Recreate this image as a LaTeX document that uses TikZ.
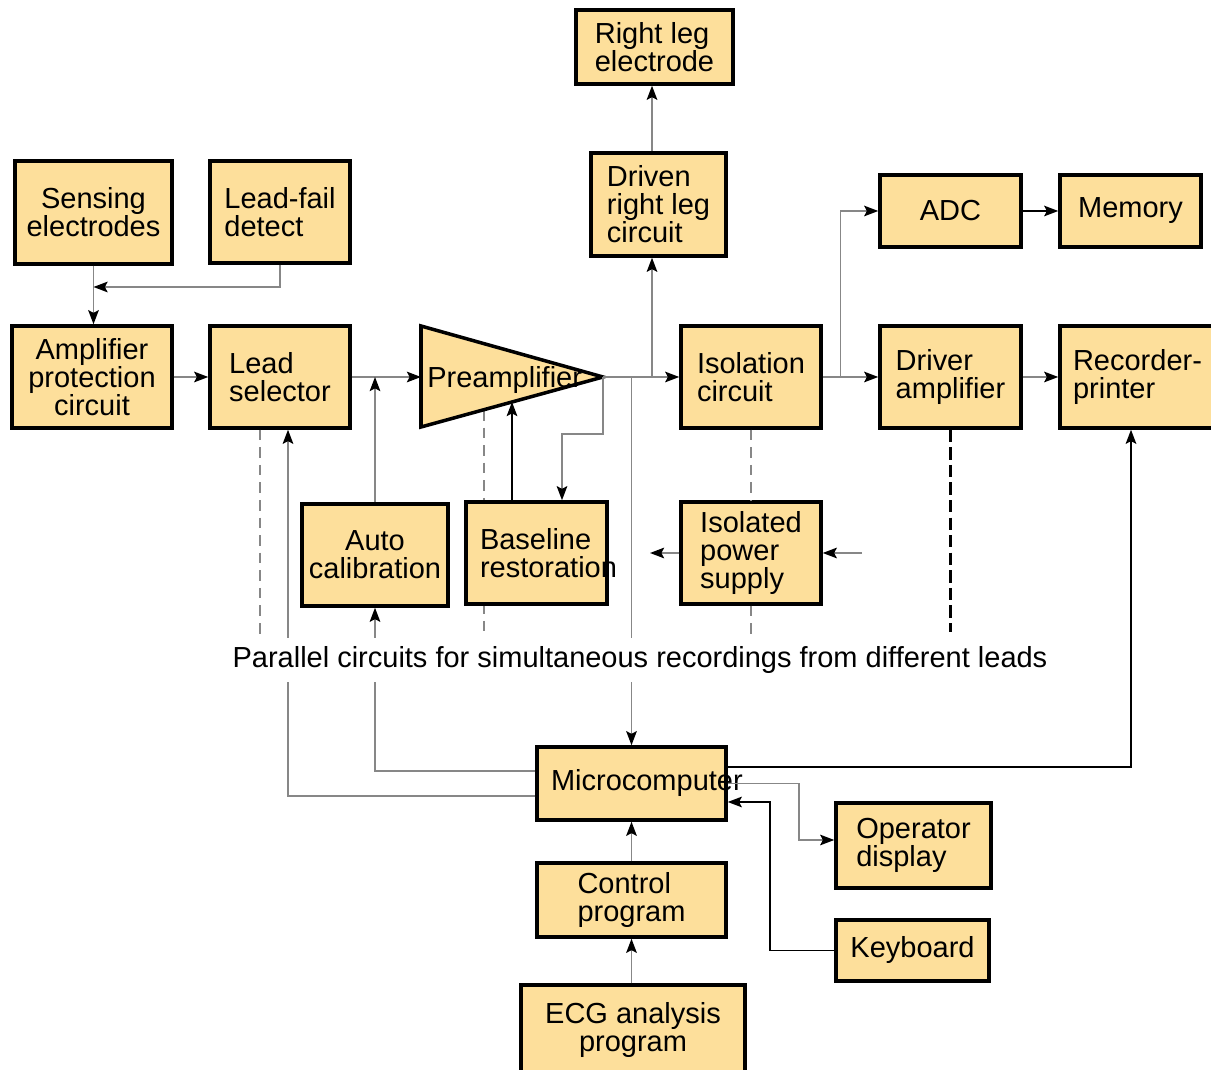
\documentclass[tikz,border=0pt]{standalone}
\usepackage{fontspec}
\setmainfont{Liberation Sans}
\usepackage{xcolor}
\usetikzlibrary{arrows.meta, calc, backgrounds}
\definecolor{boxorange}{RGB}{253,223,155}
\definecolor{wiregray}{RGB}{135,135,135}
\tikzset{
  blk/.style={rectangle, draw=black, line width=2pt, fill=boxorange,
              inner sep=0pt, align=left, font=\fontsize{16.5}{16}\selectfont},
  wire/.style={draw=wiregray, line width=1.1pt,
               -{Stealth[length=8pt, width=6pt, inset=1.5pt, color=black]}},
  wirek/.style={wire, draw=black},
  tie/.style={draw=wiregray, line width=1.1pt, dash pattern=on 6pt off 4pt},
  tiek/.style={draw=black, line width=2pt, dash pattern=on 7pt off 3pt}
}

\begin{document}
\begin{tikzpicture}[x=0.02cm, y=-0.02cm]
  \useasboundingbox (0,0) rectangle (1211,1070);

  \node[blk, minimum width=3.14cm, minimum height=1.48cm] (rle)   at (654.5,47)    {Right leg\\electrode};
  \node[blk, minimum width=2.7cm,  minimum height=2.06cm] (drl)   at (658.5,204.5) {Driven\\right leg\\circuit};
  \node[blk, align=center, minimum width=3.14cm, minimum height=2.06cm] (sens) at (93.5,212.5) {Sensing\\electrodes};
  \node[blk, minimum width=2.8cm,  minimum height=2.04cm] (lfail) at (280,212)     {Lead-fail\\detect};
  \node[blk, align=center, minimum width=3.2cm, minimum height=2.04cm] (amp) at (92,377) {Amplifier\\protection\\circuit};
  \node[blk, minimum width=2.8cm,  minimum height=2.04cm] (lsel)  at (280,377)     {Lead\\selector};

  \draw[line width=2pt, fill=boxorange] (421,326) -- (603,377) -- (421,427) -- cycle;
  \coordinate (pin)  at (421,377);
  \coordinate (ptip) at (603,377);
  \coordinate (pbot) at (512,402);
  \coordinate (pdsh) at (484,410);
  \node[anchor=west, inner sep=0pt, font=\fontsize{16.5}{16}\selectfont] (pre) at (427,380) {Preamplifier};

  \node[blk, minimum width=2.8cm,  minimum height=2.04cm] (iso)   at (751,377)     {Isolation\\circuit};
  \node[blk, minimum width=2.82cm, minimum height=1.44cm] (adc)   at (950.5,211)   {ADC};
  \node[blk, minimum width=2.82cm, minimum height=1.44cm] (mem)   at (1130.5,211)  {Memory};
  \node[blk, minimum width=2.82cm, minimum height=2.04cm] (drv)   at (950.5,377)   {Driver\\amplifier};
  \node[blk, minimum width=3.1cm,  minimum height=2.04cm] (rec)   at (1137.5,377)  {Recorder-\\printer};
  \node[blk, align=center, minimum width=2.92cm, minimum height=2.04cm] (acal) at (375,555) {Auto\\calibration};
  \node[blk, text width=2.26cm, minimum width=2.82cm, minimum height=2.04cm] (base) at (536.5,553) {Baseline\\restoration};
  \node[blk, minimum width=2.8cm,  minimum height=2.04cm] (ips)   at (751,553)     {Isolated\\power\\supply};
  \coordinate (ipsout) at (650,553);
  \coordinate (ipsin)  at (862,553);

  \node[blk, text width=3.22cm, minimum width=3.78cm, minimum height=1.46cm] (micro) at (631.5,783.5) {Microcomputer};
  \node[blk, minimum width=3.1cm,  minimum height=1.7cm]  (disp)  at (913.5,845.5) {Operator\\display};
  \node[blk, minimum width=3.78cm, minimum height=1.48cm] (ctrl)  at (631.5,900)   {Control\\program};
  \node[blk, minimum width=3.06cm, minimum height=1.22cm] (kbd)   at (912.5,950.5) {Keyboard};
  \node[blk, align=center, minimum width=4.48cm, minimum height=1.8cm] (ecg) at (633,1030) {ECG analysis\\program};
  \coordinate (lfj) at (93.5,287);

  \begin{pgfonlayer}{background}
    \draw[tie] (pdsh) -- (pdsh |- 0,636);
  \end{pgfonlayer}

  \draw[wire] (sens.south) -- (sens.south |- amp.north);
  \draw[wire] (lfail.south) |- (lfj);
  \draw[wire] (amp) -- (lsel);
  \draw[wire] (lsel) -- (pin);
  \draw[wire] (acal.north) -- (acal.north |- pin);
  \draw[wire] (ptip) -- (iso);
  \draw[wire] ([xshift=-0.13cm]drl.south |- ptip) -- ([xshift=-0.13cm]drl.south);
  \draw[wire] ([xshift=-0.13cm]drl.north) -- ([xshift=-0.13cm]drl.north |- rle.south);
  \draw[wire] (micro.north |- ptip) -- (micro.north);
  \draw[wire] (ptip) -- ++(0,57) -| ([xshift=0.51cm]base.north);
  \draw[wirek] ([xshift=-0.49cm]base.north) -- (pbot);
  \draw[wire] (ips.west) -- (ipsout);
  \draw[wire] (ipsin) -- (ips.east);
  \draw[wire] (iso) -- (drv);
  \draw[wire] ($(iso.east)!0.32!(drv.west)$) |- (adc);
  \draw[wirek] (adc) -- (mem);
  \draw[wire] (drv) -- (rec);

  \draw[tie] ([xshift=-0.4cm]lsel.south) -- ++(0,208);
  \draw[tie] (iso) -- (ips);
  \draw[tie] (ips.south) -- ++(0,32);
  \draw[tiek] (drv.south) -- ++(0,202);

  \draw[wire] ([yshift=0.25cm]micro.west) -| (acal.south);
  \draw[wire] ([yshift=-0.25cm]micro.west) -| ([xshift=0.16cm]lsel.south);
  \draw[wirek] ([yshift=0.33cm]micro.east) -| ([xshift=-0.13cm]rec.south);
  \draw[wire] (micro.east) -- ++(71,0) |- ([yshift=0.11cm]disp.west);
  \draw[wirek] (kbd.west) -- ++(-64,0) |- ([yshift=-0.37cm]micro.east);
  \draw[wire] (ctrl) -- (micro);
  \draw[wire] (ctrl.south |- ecg.north) -- (ctrl.south);

  \node[fill=white, inner sep=0pt, minimum height=0.88cm, font=\fontsize{16.5}{16}\selectfont] (para) at (640,660)
    {Parallel circuits for simultaneous recordings from different leads};
\end{tikzpicture}
\end{document}
